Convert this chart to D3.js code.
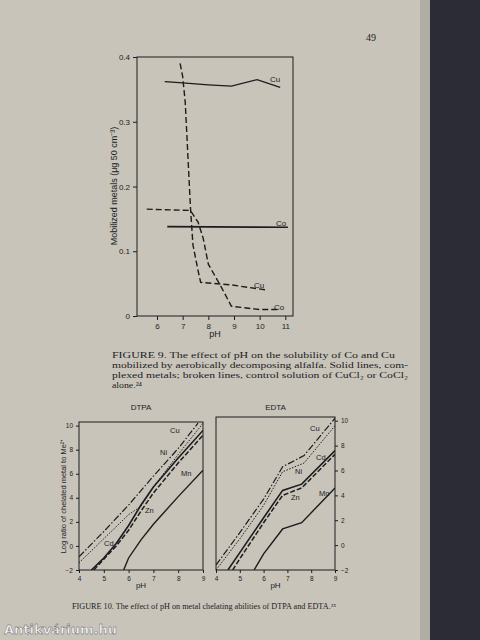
<!DOCTYPE html>
<html><head><meta charset="utf-8">
<script src="https://cdn.jsdelivr.net/npm/d3@7"></script>
<style>body{margin:0;background:#2a2a30}</style>
</head><body><svg id="c" width="480" height="640"></svg>
<script>
// Fig 9: mobilized metals vs pH
var solidCu = [[6.3,0.362],[7,0.36],[8,0.357],[8.9,0.355],[9.9,0.365],[10.8,0.353]]
var solidCo = [[6.4,0.138],[11.1,0.137]]
var dashCu = [[6.9,0.39],[7.0,0.37],[7.1,0.33],[7.2,0.25],[7.3,0.17],[7.4,0.11],[7.6,0.07],[7.7,0.052],[8.9,0.048],[10.3,0.04]]
var dashCo = [[5.6,0.165],[7.3,0.163],[7.6,0.145],[7.8,0.12],[8.0,0.08],[8.5,0.045],[8.9,0.015],[10,0.01],[10.8,0.01]]
var fig9X = [6,7,8,9,10,11]
var fig9Y = [0,0.1,0.2,0.3,0.4]

// Fig 10: log ratio of chelated metal, DTPA and EDTA
var metals = ["Cu","Ni","Cd","Zn","Mn"]
var dtpa = {
  Cu: [[4,-0.9],[5,1.2],[6,3.4],[7,5.8],[8,8.1],[8.8,10.2]],
  Ni: [[4,-1.4],[5,0.6],[6,2.6],[6.5,3.3],[7,4.9],[8,7.6],[9,10.2]],
  Cd: [[4.5,-2],[5,-1],[5.5,0.2],[6,1.7],[6.5,3.4],[7,4.9],[8,7.3],[9,9.6]],
  Zn: [[4.6,-2],[5,-1.1],[5.5,0],[6,1.3],[6.5,2.9],[7,4.4],[8,6.9],[9,9.2]],
  Mn: [[5.8,-2],[6,-1],[6.5,0.5],[7,1.8],[8,4.1],[9,6.3]]
}
var edta = {
  Cu: [[4,-1.6],[5,1],[6,3.7],[6.8,6.3],[7.7,7.2],[9,10.2]],
  Ni: [[4,-2],[5,0.5],[6,3.2],[6.8,5.9],[7.7,6.6],[9,9.6]],
  Cd: [[4.5,-2],[5,-0.6],[6,2.2],[6.8,4.4],[7.6,4.9],[9,7.6]],
  Zn: [[4.7,-2],[5,-1.1],[6,1.8],[6.8,4.0],[7.6,4.6],[9,7.3]],
  Mn: [[5.6,-2],[6,-0.7],[6.8,1.3],[7.6,1.8],[9,4.6]]
}
var fig10X = [4,5,6,7,8,9]
var fig10Y = [-2,0,2,4,6,8,10]
var dashes = {Cu:"7,2,1.5,2", Ni:"1.5,1.5", Cd:null, Zn:"5,2", Mn:null}
var widths = {Cu:1.2, Ni:1, Cd:1.6, Zn:1.5, Mn:1.4}

var svg = d3.select("#c")
var ink = "#1c1c1e", font = "Liberation Sans"

// paper + book edge
svg.append("rect").attr("width",480).attr("height",640).attr("fill","#2b2c35")
svg.append("rect").attr("width",430).attr("height",640).attr("fill","#c8c4ba")
svg.append("rect").attr("x",420).attr("width",10).attr("height",640).attr("fill","#b0ada4")
svg.append("text").attr("x",366).attr("y",41).attr("font-family","Liberation Serif")
  .attr("font-size",10).attr("fill",ink).text("49")

var line = (x,y) => d3.line().x(d=>x(d[0])).y(d=>y(d[1]))

// ---- fig 9
var x9 = d3.scaleLinear().domain([5.22,11.3]).range([137,293])
var y9 = d3.scaleLinear().domain([0,0.4]).range([316,57])
var g9 = svg.append("g").attr("font-family",font).attr("fill",ink)
g9.append("rect").attr("x",137).attr("y",57).attr("width",156).attr("height",259)
  .attr("fill","none").attr("stroke",ink).attr("stroke-width",1)
g9.append("g").attr("transform","translate(0,316)")
  .call(d3.axisBottom(x9).tickValues(fig9X).tickSize(4).tickSizeOuter(0).tickFormat(d3.format("d")))
  .call(a=>a.select(".domain").remove())
g9.append("g").attr("transform","translate(137,0)")
  .call(d3.axisLeft(y9).tickValues(fig9Y).tickSize(4).tickSizeOuter(0).tickFormat(d=>d==0?"0":d3.format(".1f")(d)))
  .call(a=>a.select(".domain").remove())
g9.selectAll(".tick text").attr("font-size",8).attr("fill",ink)
g9.selectAll(".tick line").attr("stroke",ink)
g9.append("text").attr("x",215).attr("y",337).attr("font-size",9).attr("text-anchor","middle").text("pH")
g9.append("text").attr("transform","translate(117,186) rotate(-90)").attr("font-size",9)
  .attr("text-anchor","middle").text("Mobilized  metals  (μg 50 cm⁻³)")
;[[solidCu,null,1.3],[solidCo,null,1.6],[dashCu,"6,3",1.4],[dashCo,"6,3",1.4]].forEach(s=>{
  g9.append("path").datum(s[0]).attr("d",line(x9,y9)).attr("fill","none")
    .attr("stroke",ink).attr("stroke-width",s[2]).attr("stroke-dasharray",s[1])
})
g9.append("text").attr("x",270).attr("y",82).attr("font-size",8).text("Cu")
g9.append("text").attr("x",276).attr("y",226).attr("font-size",8).text("Co")
g9.append("text").attr("x",254).attr("y",288).attr("font-size",8).text("Cu")
g9.append("text").attr("x",274).attr("y",310).attr("font-size",8).text("Co")

var cap = svg.append("g").attr("font-family","Liberation Serif").attr("font-size",8).attr("fill",ink)
;[["FIGURE 9.   The effect of pH on the solubility of Co and Cu",283],
  ["mobilized by aerobically decomposing alfalfa. Solid lines, com-",296],
  ["plexed metals; broken lines, control solution of CuCl₂ or CoCl₂",296],
  ["alone.²⁴",30]].forEach((t,i)=>cap.append("text").attr("x",112).attr("y",358+i*10)
    .attr("textLength",t[1]).attr("lengthAdjust","spacingAndGlyphs").text(t[0]))

// ---- fig 10
function panel(data, x0, x1, top, title, right, ylab){
  var x = d3.scaleLinear().domain([4,9]).range([x0,x1])
  var y = d3.scaleLinear().domain([-2,10.3]).range([570,top])
  var g = svg.append("g").attr("font-family",font).attr("fill",ink)
  g.append("rect").attr("x",x0).attr("y",top).attr("width",x1-x0).attr("height",570-top)
    .attr("fill","none").attr("stroke",ink)
  var cp = "cp"+x0
  g.append("clipPath").attr("id",cp).append("rect").attr("x",x0).attr("y",top).attr("width",x1-x0).attr("height",570-top)
  g.append("g").attr("transform","translate(0,570)")
    .call(d3.axisBottom(x).tickValues(fig10X).tickSize(3).tickSizeOuter(0).tickFormat(d3.format("d")))
    .call(a=>a.select(".domain").remove())
  g.append("g").attr("transform","translate("+(right?x1:x0)+",0)")
    .call((right?d3.axisRight(y):d3.axisLeft(y)).tickValues(fig10Y).tickSize(3).tickSizeOuter(0).tickFormat(d3.format("d")))
    .call(a=>a.select(".domain").remove())
  g.selectAll(".tick text").attr("font-size",6.5).attr("fill",ink)
  g.selectAll(".tick line").attr("stroke",ink)
  g.append("text").attr("x",(x0+x1)/2).attr("y",410).attr("font-size",8).attr("text-anchor","middle").text(title)
  g.append("text").attr("x",(x0+x1)/2).attr("y",588).attr("font-size",8).attr("text-anchor","middle").text("pH")
  if(ylab) g.append("text").attr("transform","translate(66,496) rotate(-90)").attr("font-size",7.5)
    .attr("text-anchor","middle").text("Log ratio of chelated  metal to Me²⁺")
  metals.forEach(m=>{
    g.append("path").datum(data[m]).attr("d",line(x,y)).attr("clip-path","url(#"+cp+")")
      .attr("fill","none").attr("stroke",ink).attr("stroke-width",widths[m]).attr("stroke-dasharray",dashes[m])
  })
  return g
}
var gL = panel(dtpa,79,203,422,"DTPA",false,true)
var gR = panel(edta,216,335,417,"EDTA",true,false)
var lab = (g,x,y,t)=>g.append("text").attr("x",x).attr("y",y).attr("font-size",7.5).attr("fill",ink).text(t)
lab(gL,170,433,"Cu"); lab(gL,160,455,"Ni"); lab(gL,181,476,"Mn"); lab(gL,145,513,"Zn"); lab(gL,104,546,"Cd")
lab(gR,310,431,"Cu"); lab(gR,295,474,"Ni"); lab(gR,316,460,"Cd"); lab(gR,291,500,"Zn"); lab(gR,319,496,"Mn")

svg.append("text").attr("x",72).attr("y",609).attr("font-family","Liberation Serif").attr("font-size",7.5)
  .attr("textLength",264).attr("lengthAdjust","spacingAndGlyphs")
  .attr("fill",ink).text("FIGURE 10.   The effect of pH on metal chelating abilities of DTPA and EDTA.²⁵")
svg.append("text").attr("x",4).attr("y",634).attr("font-family","DejaVu Sans").attr("font-weight","bold")
  .attr("font-size",13).attr("fill","#f4f4f4").attr("stroke","#555").attr("stroke-width",0.4).text("Antikvárium.hu")
</script></body></html>
